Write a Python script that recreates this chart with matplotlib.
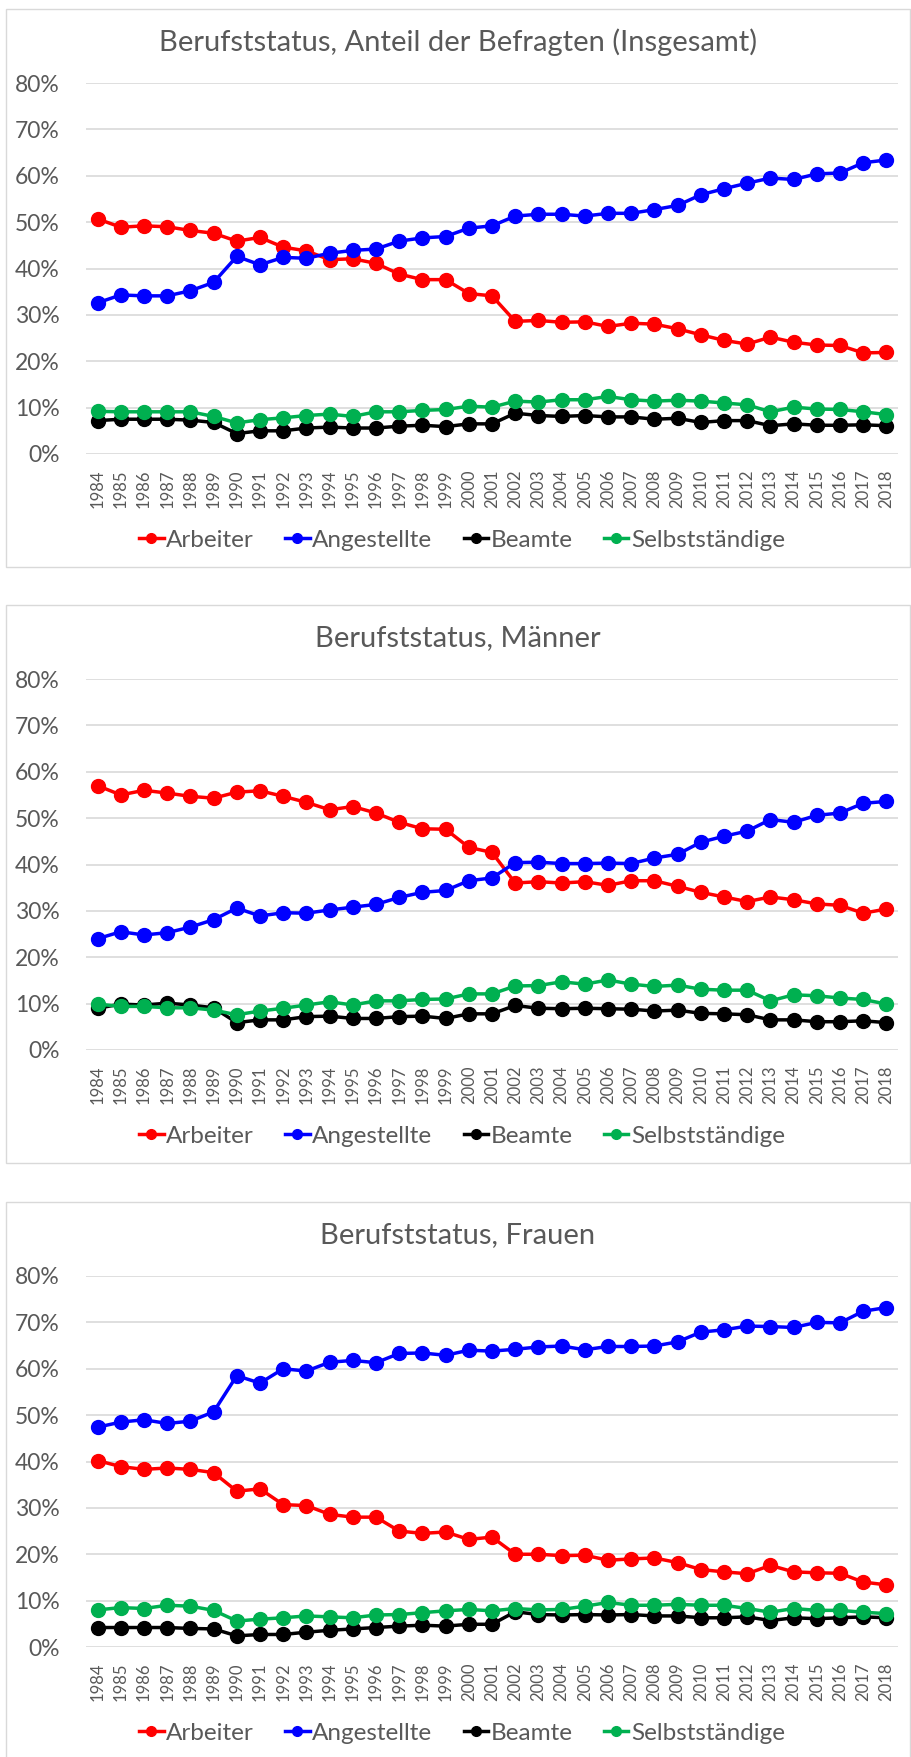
"""
Berufsstatus charts
===================
Three stacked line charts (total, men, women) in Excel look.
"""

import matplotlib
matplotlib.use('Agg')
import matplotlib.pyplot as plt
from matplotlib.patches import Rectangle
from matplotlib.ticker import PercentFormatter

years = [str(y) for y in range(1984, 2019)]
series_names = ['Arbeiter', 'Angestellte', 'Beamte', 'Selbstständige']
colors = ['#FF0000', '#0000FF', '#000000', '#00B050']

# Insgesamt (percent)
total_arbeiter = [50.7, 48.9, 49.2, 49.0, 48.2, 47.6, 45.9, 46.7, 44.6, 43.8,
                  41.9, 42.1, 41.1, 38.8, 37.6, 37.6, 34.6, 34.1, 28.6, 28.8,
                  28.4, 28.5, 27.5, 28.2, 28.0, 27.0, 25.7, 24.5, 23.7, 25.2,
                  24.1, 23.5, 23.4, 21.8, 21.9]
total_angestellte = [32.6, 34.3, 34.1, 34.1, 35.2, 37.0, 42.6, 40.8, 42.4, 42.2,
                     43.3, 43.9, 44.2, 45.9, 46.6, 46.9, 48.7, 49.2, 51.3, 51.7,
                     51.7, 51.3, 51.9, 51.9, 52.7, 53.6, 55.9, 57.2, 58.4, 59.5,
                     59.2, 60.4, 60.6, 62.8, 63.4]
total_beamte = [7.2, 7.5, 7.5, 7.5, 7.3, 6.8, 4.4, 5.0, 5.0, 5.6,
                5.8, 5.6, 5.6, 6.0, 6.2, 5.9, 6.5, 6.5, 8.8, 8.3,
                8.1, 8.3, 8.0, 8.0, 7.5, 7.7, 6.8, 7.2, 7.2, 6.1,
                6.5, 6.2, 6.2, 6.3, 6.1]
total_selbst = [9.2, 9.1, 9.1, 9.1, 9.1, 8.1, 6.7, 7.4, 7.8, 8.3,
                8.6, 8.1, 9.1, 9.1, 9.4, 9.6, 10.3, 10.1, 11.4, 11.2,
                11.7, 11.7, 12.4, 11.7, 11.4, 11.6, 11.4, 11.0, 10.6, 9.1,
                10.1, 9.7, 9.6, 9.1, 8.5]

# Männer (percent)
men_arbeiter = [57.0, 55.0, 56.0, 55.4, 54.7, 54.3, 55.6, 55.9, 54.7, 53.4,
                51.8, 52.5, 51.1, 49.1, 47.7, 47.6, 43.7, 42.6, 36.0, 36.3,
                36.0, 36.3, 35.5, 36.5, 36.5, 35.3, 34.0, 33.0, 32.0, 33.0,
                32.4, 31.5, 31.2, 29.5, 30.4]
men_angestellte = [24.0, 25.5, 24.8, 25.3, 26.5, 28.1, 30.6, 28.9, 29.6, 29.5,
                   30.2, 30.8, 31.4, 32.9, 34.0, 34.4, 36.5, 37.1, 40.4, 40.5,
                   40.2, 40.2, 40.3, 40.2, 41.4, 42.2, 44.8, 46.1, 47.2, 49.7,
                   49.1, 50.6, 51.1, 53.2, 53.6]
men_beamte = [9.0, 9.9, 9.7, 10.1, 9.7, 9.1, 5.9, 6.5, 6.5, 7.2,
              7.3, 6.8, 6.8, 7.2, 7.3, 6.8, 7.8, 7.8, 9.6, 9.0,
              8.9, 9.0, 8.9, 8.8, 8.4, 8.6, 7.9, 7.8, 7.6, 6.5,
              6.5, 6.1, 6.1, 6.3, 5.9]
men_selbst = [9.9, 9.4, 9.4, 9.1, 9.1, 8.6, 7.6, 8.4, 9.0, 9.7,
              10.4, 9.7, 10.6, 10.6, 10.9, 11.0, 12.1, 12.1, 13.8, 13.9,
              14.7, 14.2, 15.1, 14.2, 13.7, 14.0, 13.1, 12.9, 12.9, 10.6,
              11.9, 11.7, 11.2, 10.9, 9.9]

# Frauen (percent)
women_arbeiter = [40.2, 38.9, 38.3, 38.6, 38.3, 37.6, 33.6, 34.1, 30.7, 30.5,
                  28.6, 28.0, 28.0, 25.0, 24.5, 24.8, 23.2, 23.7, 20.0, 20.0,
                  19.7, 19.8, 18.7, 19.0, 19.2, 18.2, 16.7, 16.2, 15.8, 17.6,
                  16.2, 16.0, 15.9, 14.0, 13.4]
women_angestellte = [47.4, 48.5, 49.0, 48.2, 48.7, 50.7, 58.5, 56.9, 60.0, 59.5,
                     61.4, 61.8, 61.3, 63.3, 63.4, 62.9, 64.0, 63.8, 64.2, 64.7,
                     64.9, 64.1, 64.8, 64.8, 64.9, 65.8, 67.9, 68.4, 69.2, 69.1,
                     68.9, 70.0, 69.9, 72.4, 73.2]
women_beamte = [4.2, 4.2, 4.2, 4.2, 4.0, 3.9, 2.4, 2.7, 2.7, 3.2,
                3.6, 3.9, 4.2, 4.5, 4.7, 4.5, 4.9, 4.9, 7.6, 7.0,
                6.9, 7.0, 6.9, 7.0, 6.7, 6.7, 6.3, 6.3, 6.5, 5.7,
                6.3, 6.1, 6.3, 6.5, 6.3]
women_selbst = [8.0, 8.5, 8.3, 9.0, 8.8, 7.9, 5.6, 6.0, 6.3, 6.7,
                6.5, 6.3, 6.9, 7.0, 7.4, 7.8, 8.1, 7.8, 8.3, 8.0,
                8.1, 8.8, 9.6, 9.0, 9.0, 9.2, 9.0, 9.0, 8.3, 7.5,
                8.3, 7.9, 7.9, 7.5, 7.2]

titles = ['Berufststatus, Anteil der Befragten (Insgesamt)',
          'Berufststatus, Männer',
          'Berufststatus, Frauen']

W, H = 911, 1757
TEXT = '#595959'
GRID = '#D9D9D9'


def draw_panel(fig, top, title, data):
    """
    draw one boxed chart; top is the box top in pixels from figure top
    """
    # chart box
    box = Rectangle((6 / W, 1 - (top + 558) / H), 904 / W, 558 / H,
                    transform=fig.transFigure, facecolor='none',
                    edgecolor=GRID, linewidth=1.0)
    fig.patches.append(box)

    y_top = top + 74
    y_bot = top + 445
    ax = fig.add_axes([86 / W, 1 - y_bot / H, 812 / W, (y_bot - y_top) / H])

    x = range(len(years))
    for name, color, values in zip(series_names, colors, data):
        ax.plot(x, [v / 100 for v in values], color=color, lw=2.5,
                marker='o', ms=10, label=name)

    ax.set_ylim(0, 0.8)
    ax.set_xlim(-0.5, len(years) - 0.5)
    ax.set_yticks([i / 10 for i in range(9)])
    ax.yaxis.set_major_formatter(PercentFormatter(1.0, decimals=0))
    ax.set_xticks(list(x))
    ax.set_xticklabels(years, rotation=90)
    ax.tick_params(axis='y', length=0, pad=19, labelsize=16.5,
                   labelcolor=TEXT)
    ax.tick_params(axis='x', length=0, pad=11, labelsize=12,
                   labelcolor=TEXT)
    ax.grid(axis='y', color=GRID, lw=1.2)
    ax.set_axisbelow(True)
    for s in ax.spines.values():
        s.set_visible(False)

    fig.text(458 / W, 1 - (top + 33) / H, title, ha='center', va='center',
             fontsize=21, color=TEXT)

    ax.legend(loc='center', bbox_to_anchor=(462 / W, 1 - (top + 531) / H),
              bbox_transform=fig.transFigure, ncol=4, frameon=False,
              fontsize=17.5, labelcolor=TEXT, handlelength=1.0,
              handletextpad=0.1, columnspacing=1.3, markerscale=0.7)


def main():
    plt.rcParams['font.family'] = ['Lato', 'DejaVu Sans']
    fig = plt.figure(figsize=(W / 100, H / 100), dpi=100)
    panels = [
        (9, [total_arbeiter, total_angestellte, total_beamte, total_selbst]),
        (605, [men_arbeiter, men_angestellte, men_beamte, men_selbst]),
        (1202, [women_arbeiter, women_angestellte, women_beamte, women_selbst]),
    ]
    for (top, data), title in zip(panels, titles):
        draw_panel(fig, top, title, data)
    fig.savefig('out.png', dpi=100)


if __name__ == '__main__':
    main()
